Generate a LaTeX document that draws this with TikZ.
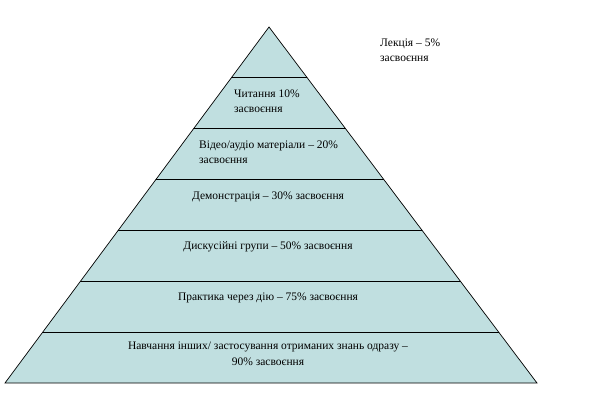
\documentclass[tikz,border=0pt]{standalone}
\usepackage{fontspec}
\setmainfont{Liberation Serif}
\begin{document}
\begin{tikzpicture}[x=1pt,y=-1pt,
  lbl/.style={inner sep=0pt,font=\fontsize{11.5}{15.5}\selectfont}]
\useasboundingbox (0,0) rectangle (604,410);
\coordinate (A) at (269,27);
\coordinate (L) at (5,383);
\coordinate (R) at (537,383);
\fill[fill={rgb,255:red,192;green,223;blue,224}] (A)--(L)--(R)--cycle;
\begin{scope}
\clip (A)--(L)--(R)--cycle;
\foreach \yy in {77,128,179,230,281,332} \draw[line width=0.7pt] (0,\yy)--(604,\yy);
\end{scope}
\draw[line width=0.7pt] (A)--(L)--(R)--cycle;
\node[lbl,align=left,anchor=west] (t1) at (234,101) {Читання 10\%\\засвоєння};
\node[lbl,align=left,anchor=west] (t2) at (199,152) {Відео/аудіо матеріали – 20\%\\засвоєння};
\node[lbl] (t3) at (268,197) {Демонстрація – 30\% засвоєння};
\node[lbl] (t4) at (268,247) {Дискусійні групи – 50\% засвоєння};
\node[lbl] (t5) at (268,298) {Практика через дію – 75\% засвоєння};
\node[lbl,align=center] (t6) at (268,354) {Навчання інших/ застосування отриманих знань одразу –\\90\% засвоєння};
\node[lbl,align=left,anchor=west] (t0) at (380,50) {Лекція – 5\%\\засвоєння};
\end{tikzpicture}
\end{document}
